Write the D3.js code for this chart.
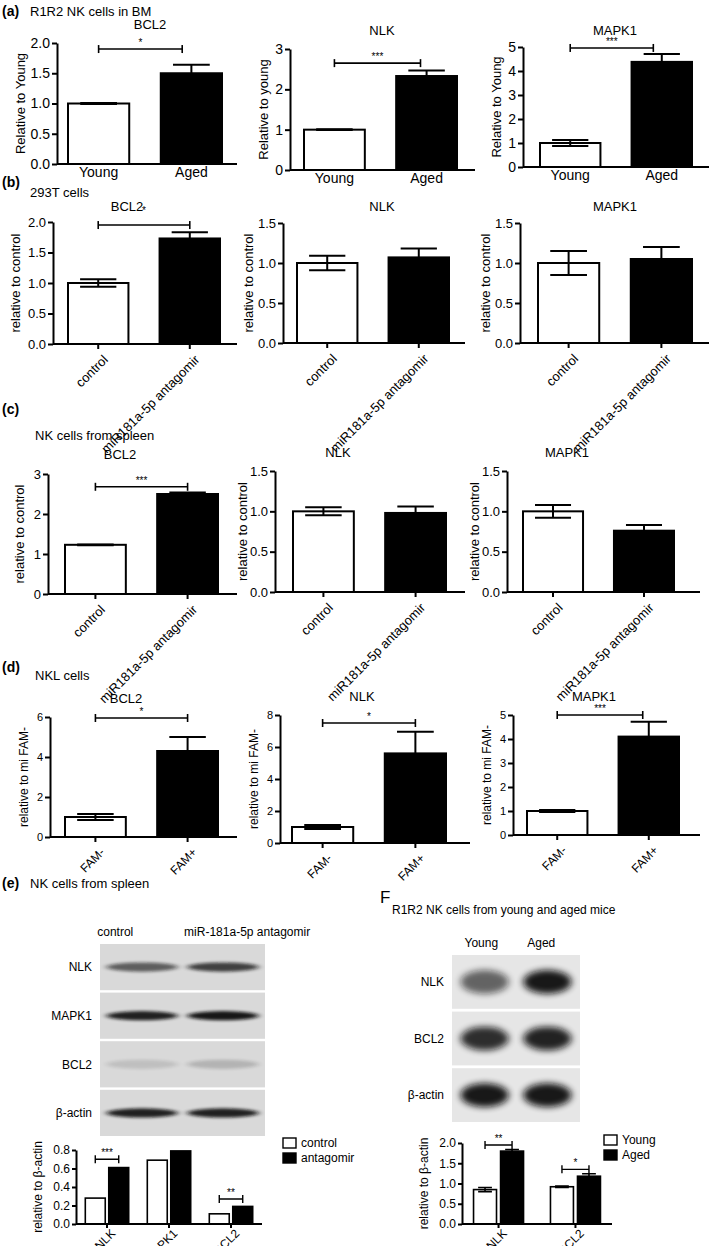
<!DOCTYPE html>
<html><head><meta charset="utf-8">
<script src="https://cdn.jsdelivr.net/npm/d3@7"></script>
<style>
body{margin:0;background:#fff}
svg{display:block;font-family:"Liberation Sans",Arial,sans-serif}
</style></head><body>
<svg id="fig" width="709" height="1246"></svg>
<script>
// ---- data ----
const youngAged = ["Young", "Aged"];
const ctrlAnt = ["control", "miR181a-5p antagomir"];
const famGroups = ["FAM-", "FAM+"];

// (a) R1R2 NK cells in BM
const aBCL2 = [1.0, 1.5], aBCL2Err = [0.01, 0.14];
const aNLK = [1.0, 2.33], aNLKErr = [0.01, 0.14];
const aMAPK1 = [1.0, 4.38], aMAPK1Err = [0.12, 0.33];
// (b) 293T cells
const bBCL2 = [1.0, 1.73], bBCL2Err = [0.06, 0.1];
const bNLK = [1.0, 1.07], bNLKErr = [0.09, 0.11];
const bMAPK1 = [1.0, 1.05], bMAPK1Err = [0.15, 0.15];
// (c) NK cells from spleen
const cBCL2 = [1.23, 2.5], cBCL2Err = [0.01, 0.04];
const cNLK = [1.0, 0.98], cNLKErr = [0.05, 0.08];
const cMAPK1 = [1.0, 0.76], cMAPK1Err = [0.08, 0.07];
// (d) NKL cells
const dBCL2 = [1.0, 4.3], dBCL2Err = [0.15, 0.7];
const dNLK = [1.0, 5.6], dNLKErr = [0.12, 1.35];
const dMAPK1 = [1.0, 4.1], dMAPK1Err = [0.04, 0.62];

// (e) western blot quantification
const eGenes = ["NLK", "MAPK1", "BCL2"];
const eSeries = ["control", "antagomir"];
const eControl = [0.28, 0.69, 0.11];
const eAntagomir = [0.61, 0.79, 0.19];
const eSig = ["***", null, "**"];
const eBlotRows = ["NLK", "MAPK1", "BCL2", "β-actin"];
const eBlotLanes = ["control", "miR-181a-5p antagomir"];
const eBandControl = [0.6, 0.9, 0.12, 0.9];
const eBandAntagomir = [0.75, 0.95, 0.18, 0.9];

// (F) R1R2 NK cells from young and aged mice
const fGenes = ["NLK", "BCL2"];
const fYoung = [0.85, 0.92], fYoungErr = [0.05, 0.02];
const fAged = [1.8, 1.18], fAgedErr = [0.04, 0.06];
const fSig = ["**", "*"];
const fBlotRows = ["NLK", "BCL2", "β-actin"];
const fBandYoung = [0.6, 0.85, 0.95];
const fBandAged = [0.95, 0.9, 0.95];

const svg = d3.select("#fig");
const defs = svg.append("defs");
defs.append("filter").attr("id", "blurE").attr("x", "-50%").attr("y", "-200%").attr("width", "200%").attr("height", "500%")
  .append("feGaussianBlur").attr("stdDeviation", "3 1.6");
defs.append("filter").attr("id", "blurF").attr("x", "-50%").attr("y", "-100%").attr("width", "200%").attr("height", "300%")
  .append("feGaussianBlur").attr("stdDeviation", "3.5 3");

function styleAxis(g, fs) {
  g.selectAll(".domain").attr("stroke", "#000").attr("stroke-width", 2);
  g.selectAll(".tick line").attr("stroke", "#000").attr("stroke-width", 2);
  g.selectAll(".tick text").attr("fill", "#000").style("font-size", fs + "px").style("font-family", "inherit");
}

function panelLabel(x, y, letter, text) {
  svg.append("text").attr("x", x).attr("y", y).style("font-weight", "bold").style("font-size", "14px").text(letter);
  if (text) svg.append("text").attr("x", x + 28).attr("y", y).style("font-size", "13px").text(text);
}

// simple two-bar GraphPad-style chart
function barPanel(c) {
  const y = d3.scaleLinear().domain([0, c.max]).range([c.y0, c.yTop]);
  const x = d3.scaleBand().domain(c.groups).range([c.bx0, c.bx1]).paddingInner(0.34);
  const bw = x.bandwidth();
  const g = svg.append("g");

  g.selectAll("rect.bar").data(c.means).join("rect")
    .attr("x", (d, i) => x(c.groups[i])).attr("y", d => y(d))
    .attr("width", bw).attr("height", d => c.y0 - y(d))
    .attr("fill", (d, i) => i ? "#000" : "#fff").attr("stroke", "#000").attr("stroke-width", 2);

  const eb = g.selectAll("g.err").data(c.means).join("g").attr("stroke", "#000").attr("stroke-width", 2);
  eb.append("line")
    .attr("x1", (d, i) => x(c.groups[i]) + bw / 2).attr("x2", (d, i) => x(c.groups[i]) + bw / 2)
    .attr("y1", (d, i) => y(d - c.errs[i])).attr("y2", (d, i) => y(d + c.errs[i]));
  eb.append("line")
    .attr("x1", (d, i) => x(c.groups[i]) + bw * 0.2).attr("x2", (d, i) => x(c.groups[i]) + bw * 0.8)
    .attr("y1", (d, i) => y(d + c.errs[i])).attr("y2", (d, i) => y(d + c.errs[i]));
  eb.append("line")
    .attr("x1", (d, i) => x(c.groups[i]) + bw * 0.2).attr("x2", (d, i) => x(c.groups[i]) + bw * 0.8)
    .attr("y1", (d, i) => y(d - c.errs[i])).attr("y2", (d, i) => y(d - c.errs[i]));

  const ya = g.append("g").attr("transform", `translate(${c.ax},0)`)
    .call(d3.axisLeft(y).tickValues(d3.range(0, c.max + 1e-9, c.step)).tickFormat(d3.format(c.fmt))
      .tickSize(5).tickSizeOuter(0).tickPadding(2));
  styleAxis(ya, c.fs);

  const xa = g.append("g").attr("transform", `translate(0,${c.y0})`)
    .call(d3.axisBottom(x).tickSize(c.rotate ? 5 : 0).tickSizeOuter(0).tickPadding(c.rotate ? 5 : 3));
  xa.select(".domain").attr("d", `M${c.ax},0H${c.axEnd}`);
  styleAxis(xa, c.xfs);
  if (c.rotate) {
    xa.selectAll(".tick text").attr("text-anchor", "end")
      .attr("transform", "translate(-3,3) rotate(-45)").attr("dy", "0.7em");
  }

  g.append("text").attr("transform", `translate(${c.ax - c.ylOff},${(c.y0 + c.yTop) / 2}) rotate(-90)`)
    .attr("text-anchor", "middle").style("font-size", c.ylfs + "px").text(c.ylabel);
  g.append("text").attr("x", c.tx).attr("y", c.ty).attr("text-anchor", "middle")
    .style("font-size", "13px").text(c.title);

  if (c.sig) {
    const x1 = x(c.groups[0]) + bw / 2, x2 = x(c.groups[1]) + bw * (c.sigEnd || 0.5), yb = y(c.sigAt);
    const br = g.append("g").attr("stroke", "#000").attr("stroke-width", 1.6);
    br.append("line").attr("x1", x1).attr("x2", x2).attr("y1", yb).attr("y2", yb);
    br.append("line").attr("x1", x1).attr("x2", x1).attr("y1", yb - 4).attr("y2", yb + 4);
    br.append("line").attr("x1", x2).attr("x2", x2).attr("y1", yb - 4).attr("y2", yb + 4);
    g.append("text").attr("x", (x1 + x2) / 2 + (c.sigDx || 0)).attr("y", yb - 3 + (c.sigDy || 0))
      .attr("text-anchor", "middle").style("font-size", "10px").text(c.sig);
  }
}

// ---- (a) ----
panelLabel(2, 16, "(a)", "R1R2 NK cells in BM");
const rowA = { groups: youngAged, fs: 14, xfs: 14, ylfs: 13, ylOff: 32, rotate: false };
barPanel({ ...rowA, means: aBCL2, errs: aBCL2Err, max: 2, step: 0.5, fmt: ".1f", ax: 57, axEnd: 237, y0: 164, yTop: 43, bx0: 68, bx1: 222, ylabel: "Relative to Young", title: "BCL2", tx: 150, ty: 29, sig: "*", sigAt: 1.9, sigEnd: 0.35 });
barPanel({ ...rowA, means: aNLK, errs: aNLKErr, max: 3, step: 1, fmt: "d", ax: 290, axEnd: 475, y0: 170, yTop: 49, bx0: 304, bx1: 457, ylabel: "Relative to young", ylOff: 22, title: "NLK", tx: 382, ty: 35, sig: "***", sigAt: 2.65, sigEnd: 0.4 });
barPanel({ ...rowA, means: aMAPK1, errs: aMAPK1Err, max: 5, step: 1, fmt: "d", ax: 523, axEnd: 709, y0: 167, yTop: 47, bx0: 540, bx1: 692, ylabel: "Relative to Young", ylOff: 22, title: "MAPK1", tx: 615, ty: 35, sig: "***", sigAt: 4.96, sigEnd: 0.36 });

// ---- (b) ----
panelLabel(2, 187, "(b)", null);
svg.append("text").attr("x", 30).attr("y", 197).style("font-size", "13px").text("293T cells");
const rowB = { groups: ctrlAnt, max: 1.5, step: 0.5, fmt: ".1f", fs: 13, xfs: 13, ylfs: 13, ylOff: 33, rotate: true };
barPanel({ ...rowB, means: bBCL2, errs: bBCL2Err, max: 2, ax: 53, axEnd: 237, y0: 344, yTop: 222, bx0: 68, bx1: 220, ylabel: "relative to control", title: "BCL2", tx: 127, ty: 211, sig: "*", sigAt: 1.95, sigDx: 0, sigDy: -8 });
barPanel({ ...rowB, means: bNLK, errs: bNLKErr, ax: 283, axEnd: 465, y0: 343, yTop: 223, bx0: 297, bx1: 449, ylabel: "relative to control", ylOff: 30, title: "NLK", tx: 382, ty: 211 });
barPanel({ ...rowB, means: bMAPK1, errs: bMAPK1Err, ax: 520, axEnd: 709, y0: 343, yTop: 223, bx0: 538, bx1: 692, ylabel: "relative to control", ylOff: 30, title: "MAPK1", tx: 615, ty: 211 });

// ---- (c) ----
panelLabel(2, 414, "(c)", null);
svg.append("text").attr("x", 35).attr("y", 440).style("font-size", "13px").text("NK cells from spleen");
const rowC = { groups: ctrlAnt, max: 1.5, step: 0.5, fmt: ".1f", fs: 13, xfs: 13, ylfs: 13, ylOff: 28, rotate: true };
barPanel({ ...rowC, means: cBCL2, errs: cBCL2Err, max: 3, step: 1, fmt: "d", ax: 48, axEnd: 237, y0: 594, yTop: 474, bx0: 65, bx1: 218, ylabel: "relative to control", ylOff: 24, title: "BCL2", tx: 120, ty: 459, sig: "***", sigAt: 2.68 });
barPanel({ ...rowC, means: cNLK, errs: cNLKErr, ax: 275, axEnd: 465, y0: 592, yTop: 471, bx0: 293, bx1: 446, ylabel: "relative to control", title: "NLK", tx: 338, ty: 457 });
barPanel({ ...rowC, means: cMAPK1, errs: cMAPK1Err, ax: 507, axEnd: 700, y0: 592, yTop: 471, bx0: 523, bx1: 674, ylabel: "relative to control", title: "MAPK1", tx: 567, ty: 457 });

// ---- (d) ----
panelLabel(2, 672, "(d)", null);
svg.append("text").attr("x", 35).attr("y", 680).style("font-size", "13px").text("NKL cells");
const rowD = { groups: famGroups, step: 2, fmt: "d", fs: 11, xfs: 12, ylfs: 12, ylOff: 22, rotate: true };
barPanel({ ...rowD, means: dBCL2, errs: dBCL2Err, max: 6, ax: 50, axEnd: 237, y0: 837, yTop: 717, bx0: 65, bx1: 218, ylabel: "relative to mi FAM-", title: "BCL2", tx: 126, ty: 703, sig: "*", sigAt: 5.95 });
barPanel({ ...rowD, means: dNLK, errs: dNLKErr, max: 8, ax: 280, axEnd: 470, y0: 843, yTop: 715, bx0: 292, bx1: 446, ylabel: "relative to mi FAM-", title: "NLK", tx: 362, ty: 701, sig: "*", sigAt: 7.5 });
barPanel({ ...rowD, means: dMAPK1, errs: dMAPK1Err, max: 5, step: 1, ax: 513, axEnd: 700, y0: 835, yTop: 715, bx0: 527, bx1: 679, ylabel: "relative to mi FAM-", title: "MAPK1", tx: 594, ty: 701, sig: "***", sigAt: 5.0, sigEnd: 0.4 });

// ---- western blots ----
function blot(c) {
  const lane = d3.scaleBand().domain(c.lanes).range([c.x0, c.x1]).padding(0.04);
  const row = d3.scaleBand().domain(c.rows).range([c.y0, c.y1]).paddingInner(0.05);
  const g = svg.append("g");
  g.selectAll("rect.bg").data(c.rows).join("rect")
    .attr("x", c.x0).attr("y", d => row(d)).attr("width", c.x1 - c.x0).attr("height", row.bandwidth())
    .attr("fill", c.bg);
  c.rows.forEach((r, ri) => {
    c.bands.forEach((vals, li) => {
      g.append("ellipse")
        .attr("cx", lane(c.lanes[li]) + lane.bandwidth() / 2)
        .attr("cy", row(r) + row.bandwidth() * 0.5)
        .attr("rx", lane.bandwidth() * c.bandW).attr("ry", row.bandwidth() * c.bandH)
        .attr("fill", "#111").attr("opacity", vals[ri]).attr("filter", c.filter);
    });
    g.append("text").attr("x", c.x0 - 8).attr("y", row(r) + row.bandwidth() / 2).attr("dy", "0.35em")
      .attr("text-anchor", "end").style("font-size", "12px").text(r);
  });
  c.laneLabels.forEach((t, i) => {
    g.append("text").attr("x", lane(c.lanes[i]) + c.labelDx[i]).attr("y", c.y0 - 8)
      .style("font-size", "12px").text(t);
  });
}

panelLabel(2, 888, "(e)", "NK cells from spleen");
blot({ lanes: eBlotLanes, laneLabels: ["control", "miR-181a-5p antagomir"], rows: eBlotRows, bands: [eBandControl, eBandAntagomir],
  x0: 100, x1: 265, y0: 944, y1: 1136, bg: "#d9d9d9", bandW: 0.46, bandH: 0.1, filter: "url(#blurE)", labelDx: [-6, 0] });

svg.append("text").attr("x", 380).attr("y", 903).style("font-size", "17px").text("F");
svg.append("text").attr("x", 392).attr("y", 914).style("font-size", "12px").text("R1R2 NK cells from young and aged mice");
blot({ lanes: youngAged, laneLabels: youngAged, rows: fBlotRows, bands: [fBandYoung, fBandAged],
  x0: 452, x1: 580, y0: 955, y1: 1122, bg: "#e6e6e6", bandW: 0.4, bandH: 0.22, filter: "url(#blurF)", labelDx: [10, 10] });

// grouped bars for blot quantification
function groupedBars(c) {
  const y = d3.scaleLinear().domain([0, c.max]).range([c.y0, c.yTop]);
  const x0 = d3.scaleBand().domain(c.groups).range([c.bx0, c.bx1]).paddingInner(c.padIn).paddingOuter(c.padOut);
  const x1 = d3.scaleBand().domain(c.series).range([0, x0.bandwidth()]).paddingInner(0.15);
  const g = svg.append("g");
  const bw = x1.bandwidth();
  c.values.forEach((vals, si) => {
    g.selectAll(null).data(vals).join("rect")
      .attr("x", (d, i) => x0(c.groups[i]) + x1(c.series[si])).attr("y", d => y(d))
      .attr("width", bw).attr("height", d => c.y0 - y(d))
      .attr("fill", si ? "#000" : "#fff").attr("stroke", "#000").attr("stroke-width", 1.6);
    if (c.errs) {
      vals.forEach((d, i) => {
        const cx = x0(c.groups[i]) + x1(c.series[si]) + bw / 2, e = c.errs[si][i];
        g.append("path").attr("d", `M${cx},${y(d - e)}V${y(d + e)}M${cx - bw * 0.3},${y(d + e)}H${cx + bw * 0.3}M${cx - bw * 0.3},${y(d - e)}H${cx + bw * 0.3}`)
          .attr("stroke", "#000").attr("stroke-width", 1.6).attr("fill", "none");
      });
    }
  });
  const ya = g.append("g").attr("transform", `translate(${c.ax},0)`)
    .call(d3.axisLeft(y).tickValues(d3.range(0, c.max + 1e-9, c.step)).tickFormat(d3.format(".1f"))
      .tickSize(4).tickSizeOuter(0).tickPadding(2));
  styleAxis(ya, 12);
  const xa = g.append("g").attr("transform", `translate(0,${c.y0})`)
    .call(d3.axisBottom(x0).tickSize(4).tickSizeOuter(0).tickPadding(2));
  xa.select(".domain").attr("d", `M${c.ax},0H${c.axEnd}`);
  styleAxis(xa, 12);
  xa.selectAll(".tick text").attr("text-anchor", "end").attr("transform", "translate(-1,0) rotate(-45)").attr("dy", "0.7em");
  g.append("text").attr("transform", `translate(${c.ax - 34},${(c.y0 + c.yTop) / 2}) rotate(-90)`)
    .attr("text-anchor", "middle").style("font-size", "12px").text(c.ylabel);

  c.sig.forEach((s, i) => {
    if (!s) return;
    const xa1 = x0(c.groups[i]) + x1(c.series[0]) + bw / 2, xa2 = x0(c.groups[i]) + x1(c.series[1]) + bw / 2;
    const yb = y(c.sigAt[i]);
    g.append("path").attr("d", `M${xa1},${yb - 4}V${yb + 4}M${xa1},${yb}H${xa2}M${xa2},${yb - 4}V${yb + 4}`)
      .attr("stroke", "#000").attr("stroke-width", 1.4).attr("fill", "none");
    g.append("text").attr("x", (xa1 + xa2) / 2).attr("y", yb - 3).attr("text-anchor", "middle")
      .style("font-size", "10px").text(s);
  });

  const lg = g.selectAll("g.lg").data(c.series).join("g")
    .attr("transform", (d, i) => `translate(${c.lx},${c.ly + i * 15})`);
  lg.append("rect").attr("width", 13).attr("height", 10).attr("fill", (d, i) => i ? "#000" : "#fff")
    .attr("stroke", "#000").attr("stroke-width", 1.4);
  lg.append("text").attr("x", 18).attr("y", 9).style("font-size", "12px").text(d => d);
}

groupedBars({ groups: eGenes, series: eSeries, values: [eControl, eAntagomir], max: 0.8, step: 0.2,
  ax: 76, axEnd: 262, y0: 1224, yTop: 1150, bx0: 76, bx1: 262, padIn: 0.3, padOut: 0.15,
  ylabel: "relative to β-actin", sig: eSig, sigAt: [0.7, null, 0.27], lx: 283, ly: 1138 });

groupedBars({ groups: fGenes, series: youngAged, values: [fYoung, fAged], errs: [fYoungErr, fAgedErr], max: 2, step: 0.5,
  ax: 462, axEnd: 612, y0: 1224, yTop: 1143, bx0: 462, bx1: 612, padIn: 0.35, padOut: 0.15,
  ylabel: "relative to β-actin", sig: fSig, sigAt: [1.95, 1.35], lx: 604, ly: 1135 });
</script></body></html>
